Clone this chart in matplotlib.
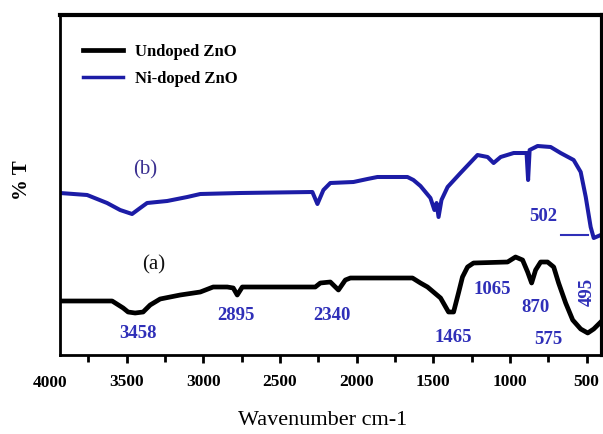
import numpy as np
import matplotlib
matplotlib.use('Agg')
from matplotlib import pyplot as plt
from matplotlib.ticker import MultipleLocator, FixedLocator
import matplotlib.transforms as mtransforms

# wavenumber (cm-1) and %T (arbitrary units)
wn_undoped = [3935, 3595, 3523, 3491, 3445, 3393, 3347, 3282, 3151, 3020, 2936,
              2844, 2805, 2779, 2746, 2270, 2237, 2172, 2119, 2074, 2041, 1636,
              1584, 1538, 1453, 1401, 1368, 1336, 1310, 1277, 1238, 1016, 964,
              918, 885, 859, 833, 800, 755, 715, 683, 637, 591, 539, 493, 454, 408]
t_undoped = [54, 54, 47, 43, 42, 43, 50, 56, 60, 63, 68,
             68, 67, 60, 68, 68, 72, 73, 65, 75, 77, 77,
             72, 68, 57, 43, 43, 62, 78, 88, 92, 93, 98,
             95, 83, 72, 85, 93, 93, 88, 72, 52, 35, 26, 22, 26, 33]

wn_nidoped = [3935, 3758, 3628, 3543, 3465, 3412, 3367, 3236, 3105, 3020, 2759,
              2289, 2256, 2217, 2172, 2021, 1930, 1865, 1669, 1630, 1584, 1519,
              1493, 1479, 1466, 1447, 1407, 1323, 1212, 1146, 1107, 1061, 976,
              892, 882, 872, 820, 735, 670, 585, 539, 506, 474, 454, 408]
t_nidoped = [162, 160, 152, 145, 141, 147, 152, 154, 158, 161, 162,
             163, 151, 165, 172, 173, 176, 178, 178, 175, 169, 157,
             145, 152, 138, 155, 168, 182, 200, 198, 192, 198, 202,
             202, 175, 205, 209, 208, 202, 195, 183, 158, 128, 117, 120]

peak_labels = ['3458', '2895', '2340', '1465', '1065', '870', '575']
legend_labels = ['Undoped ZnO', 'Ni-doped ZnO']
xticks_major = [3500, 3000, 2500, 2000, 1500, 1000, 500]

black = '#000000'
blue = '#1c1ca6'
lblue = '#2f2fb8'

fig = plt.figure(figsize=(6.03, 4.34), dpi=100)
ax = fig.add_axes([60 / 603, 1 - 355 / 434, 542 / 603, 340 / 434])

l1, = ax.plot(wn_undoped, t_undoped, color=black, lw=3.4, solid_joinstyle='round')
l2, = ax.plot(wn_nidoped, t_nidoped, color=blue, lw=2.9, solid_joinstyle='round')

ax.set_xlim(3935, 400)
ax.set_ylim(0, 340)
ax.set_yticks([])
ax.xaxis.set_major_locator(FixedLocator(xticks_major))
ax.xaxis.set_minor_locator(MultipleLocator(250))
ax.tick_params(axis='x', which='major', direction='out', length=6, width=2, pad=8)
ax.tick_params(axis='x', which='minor', direction='out', length=5, width=2)
for sp in ['left', 'bottom']:
    ax.spines[sp].set_linewidth(2)
for sp in ['top', 'right']:
    ax.spines[sp].set_linewidth(3)

tickfont = dict(family='Liberation Serif', weight='bold', size=12.5)
ax.set_xticklabels([str(v) for v in xticks_major], fontdict=tickfont)
# the 4000 label sits left of the axes, as in the original
trans = mtransforms.blended_transform_factory(ax.transData, ax.transAxes)
ax.text(4000, -0.081, '4000', transform=trans, ha='center', va='center',
        clip_on=False, **tickfont)

ax.set_xlabel('Wavenumber cm-1', family='Liberation Serif', size=16, va='center')
ax.xaxis.set_label_coords(0.485, -0.194)
ax.set_ylabel('% T', family='Liberation Serif', weight='bold', size=15, va='center')
ax.yaxis.set_label_coords(-0.07, 0.515)

# peak annotations
lab_pos = [(3425, 22), (2785, 40), (2159, 40), (1368, 18), (1114, 65), (833, 47), (748, 15)]
lfont = dict(family='Liberation Serif', weight='bold', size=13.5, color=lblue)
for s, (x, y) in zip(peak_labels, lab_pos):
    ax.text(x, y, s, ha='center', va='center', **lfont)
ax.text(493, 63, '495', rotation=90, ha='center', va='center', **lfont)
ax.text(781, 138, '502', ha='center', va='center', **lfont)
ax.plot([670, 493], [120, 120], color=lblue, lw=1.5)

ax.text(3380, 185, '(b)', family='Liberation Serif', size=15, color='#3a2f90',
        ha='center', va='center')
ax.text(3327, 90, '(a)', family='Liberation Serif', size=15, color='#111111',
        ha='center', va='center')

leg = ax.legend([l1, l2], legend_labels, loc='upper left',
                bbox_to_anchor=(83 / 603, 1 - 44 / 434), bbox_transform=fig.transFigure,
                frameon=False, borderpad=0, borderaxespad=0, handlelength=2.4,
                handletextpad=0.7, labelspacing=0.68,
                prop=dict(family='Liberation Serif', weight='bold', size=12))
leg.get_lines()[0].set_linewidth(3.4)
leg.get_lines()[1].set_linewidth(2.5)

fig.savefig('out.png', dpi=100)
